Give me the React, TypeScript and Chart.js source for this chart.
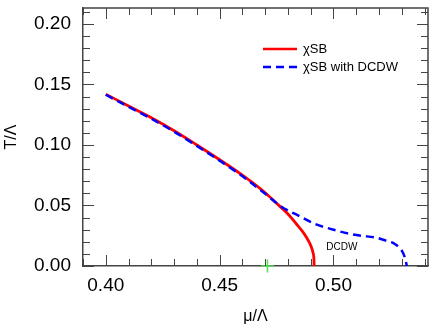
import React, { useEffect, useRef } from "react";
import { Chart, registerables } from "chart.js";

Chart.register(...registerables);

// ---- data ----
const muRed = [0.400, 0.410, 0.420, 0.430, 0.440, 0.450, 0.460, 0.470, 0.475, 0.480, 0.4838, 0.4862, 0.4881, 0.4895, 0.4903, 0.4910, 0.4914, 0.4915];
const tRed = [0.1420, 0.1322, 0.1225, 0.1118, 0.1000, 0.0878, 0.0750, 0.0605, 0.0518, 0.0430, 0.0345, 0.0290, 0.0238, 0.0190, 0.0155, 0.0110, 0.0060, 0.0000];

const muBlue = [0.400, 0.410, 0.420, 0.430, 0.440, 0.450, 0.460, 0.470, 0.4770, 0.4848, 0.4920, 0.5000, 0.5065, 0.5120, 0.5183, 0.5230, 0.5265, 0.5290, 0.5304, 0.5315, 0.5322];
const tBlue = [0.1415, 0.1315, 0.1217, 0.1110, 0.0992, 0.0871, 0.0742, 0.0597, 0.0492, 0.0415, 0.0347, 0.0300, 0.0268, 0.0250, 0.0236, 0.0210, 0.0187, 0.0150, 0.0114, 0.0060, 0.0000];

const muMark = [0.471];
const tMark = [0.0];

const xTicks = [0.40, 0.45, 0.50];
const yTicks = [0.00, 0.05, 0.10, 0.15, 0.20];
const xMinorStep = 0.01;
const yMinorStep = 0.01;

const seriesLabels = ["\u03C7SB", "\u03C7SB with DCDW"];
const annotationText = "DCDW";
const annotationPos = { x: 0.5037, y: 0.0154 };
const xTitle = "\u03BC/\u039B";
const yTitle = "T/\u039B";

const X_MIN = 0.39;
const X_MAX = 0.5415;
const Y_MIN = 0.0;
const Y_MAX = 0.2132;

const FONT = "'Liberation Sans', Arial, Helvetica, sans-serif";

const toPoints = (xs: number[], ys: number[]) => xs.map((x, i) => ({ x, y: ys[i] }));

const framePlugin = {
  id: "frameTicks",
  afterDraw(chart: any) {
    const { ctx, chartArea } = chart;
    const xs = chart.scales.x;
    const ys = chart.scales.y;
    const { left, right, top, bottom } = chartArea;
    ctx.save();
    ctx.strokeStyle = "#444";
    ctx.lineWidth = 1;
    const major = 11;
    const minor = 7;
    ctx.beginPath();
    const nx = Math.round((X_MAX - X_MIN) / xMinorStep) + 2;
    for (let i = 0; i < nx; i++) {
      const v = Math.round((Math.ceil(X_MIN / xMinorStep) + i) * xMinorStep * 1000) / 1000;
      if (v < X_MIN || v > X_MAX) continue;
      const px = Math.round(xs.getPixelForValue(v)) + 0.5;
      const isMajor = xTicks.some((t) => Math.abs(t - v) < 1e-6);
      const len = isMajor ? major : minor;
      ctx.moveTo(px, bottom);
      ctx.lineTo(px, bottom - len);
      ctx.moveTo(px, top);
      ctx.lineTo(px, top + len);
    }
    const ny = Math.round((Y_MAX - Y_MIN) / yMinorStep) + 2;
    for (let i = 0; i < ny; i++) {
      const v = Math.round(i * yMinorStep * 1000) / 1000;
      if (v < Y_MIN || v > Y_MAX) continue;
      const py = Math.round(ys.getPixelForValue(v)) + 0.5;
      const isMajor = yTicks.some((t) => Math.abs(t - v) < 1e-6);
      const len = isMajor ? major : minor;
      ctx.moveTo(left, py);
      ctx.lineTo(left + len, py);
      ctx.moveTo(right, py);
      ctx.lineTo(right - len, py);
    }
    ctx.stroke();
    ctx.strokeStyle = "#444";
    ctx.lineWidth = 1.5;
    ctx.beginPath();
    ctx.moveTo(left, top);
    ctx.lineTo(right, top);
    ctx.lineTo(right, bottom);
    ctx.stroke();

    // legend
    const lx0 = right - 165;
    const lx1 = right - 131;
    const ly1 = top + 41;
    const ly2 = top + 59;
    ctx.lineWidth = 2.5;
    ctx.strokeStyle = "#ff0000";
    ctx.setLineDash([]);
    ctx.beginPath();
    ctx.moveTo(lx0, ly1);
    ctx.lineTo(lx1, ly1);
    ctx.stroke();
    ctx.strokeStyle = "#0000ff";
    ctx.setLineDash([8, 5]);
    ctx.beginPath();
    ctx.moveTo(lx0, ly2);
    ctx.lineTo(lx1 + 1, ly2);
    ctx.stroke();
    ctx.setLineDash([]);
    ctx.fillStyle = "#000";
    ctx.font = `13px ${FONT}`;
    ctx.textAlign = "left";
    ctx.textBaseline = "middle";
    ctx.fillText(seriesLabels[0], lx1 + 6, ly1);
    ctx.fillText(seriesLabels[1], lx1 + 6, ly2);

    // annotation
    ctx.font = `10px ${FONT}`;
    ctx.textAlign = "center";
    ctx.textBaseline = "middle";
    ctx.fillText(annotationText, xs.getPixelForValue(annotationPos.x), ys.getPixelForValue(annotationPos.y));
    ctx.restore();
  },
};

export default function App() {
  const ref = useRef<HTMLCanvasElement | null>(null);

  useEffect(() => {
    document.body.style.margin = "0";
    const canvas = ref.current;
    if (!canvas) return;
    const chart = new Chart(canvas, {
      type: "line",
      data: {
        datasets: [
          {
            label: seriesLabels[1],
            data: toPoints(muBlue, tBlue),
            borderColor: "#0000ff",
            borderWidth: 2.5,
            borderDash: [8, 5],
            pointRadius: 0,
            cubicInterpolationMode: "monotone",
            fill: false,
            order: 1,
          },
          {
            label: seriesLabels[0],
            data: toPoints(muRed, tRed),
            borderColor: "#ff0000",
            borderWidth: 2.8,
            pointRadius: 0,
            cubicInterpolationMode: "monotone",
            fill: false,
            order: 2,
          },
          {
            label: "marker",
            type: "scatter",
            data: toPoints(muMark, tMark),
            borderColor: "#55dd55",
            backgroundColor: "#55dd55",
            pointStyle: "cross",
            pointRadius: 6.5,
            borderWidth: 1.5,
            showLine: false,
            clip: false,
            order: 0,
          } as any,
        ],
      },
      options: {
        responsive: false,
        animation: false,
        devicePixelRatio: 1,
        layout: { padding: { top: 4, right: 6, left: 0, bottom: 0 } },
        plugins: {
          legend: { display: false },
          tooltip: { enabled: false },
        },
        scales: {
          x: {
            type: "linear",
            position: "bottom",
            min: X_MIN,
            max: X_MAX,
            afterBuildTicks: (s: any) => {
              s.ticks = xTicks.map((v) => ({ value: v }));
            },
            afterFit: (s: any) => {
              s.height = 64;
              s.paddingLeft = 0;
              s.paddingRight = 0;
              s.paddingTop = 0;
              s.paddingBottom = 0;
            },
            grid: { display: false, drawTicks: false },
            border: { display: true, color: "#444", width: 1.5 },
            ticks: {
              padding: 8,
              color: "#000",
              font: { size: 19, family: FONT },
              callback: (v: any) => Number(v).toFixed(2),
              maxRotation: 0,
            },
            title: {
              display: true,
              text: xTitle,
              color: "#000",
              font: { size: 16, family: FONT },
              padding: { top: 0, bottom: 3.4 },
            },
          },
          y: {
            type: "linear",
            min: Y_MIN,
            max: Y_MAX,
            afterBuildTicks: (s: any) => {
              s.ticks = yTicks.map((v) => ({ value: v }));
            },
            afterFit: (s: any) => {
              s.width = 83;
              s.paddingLeft = 0;
              s.paddingRight = 0;
              s.paddingTop = 0;
              s.paddingBottom = 0;
            },
            grid: { display: false, drawTicks: false },
            border: { display: true, color: "#444", width: 1.5 },
            ticks: {
              padding: 12,
              color: "#000",
              font: { size: 19, family: FONT },
              callback: (v: any) => Number(v).toFixed(2),
            },
            title: {
              display: true,
              text: yTitle,
              color: "#000",
              font: { size: 16, family: FONT },
              padding: { top: 1.5, bottom: 0 },
            },
          },
        },
      },
      plugins: [framePlugin],
    });
    return () => chart.destroy();
  }, []);

  return (
    <div style={{ width: 436, height: 330 }}>
      <canvas ref={ref} width={436} height={330} style={{ display: "block" }} />
    </div>
  );
}
